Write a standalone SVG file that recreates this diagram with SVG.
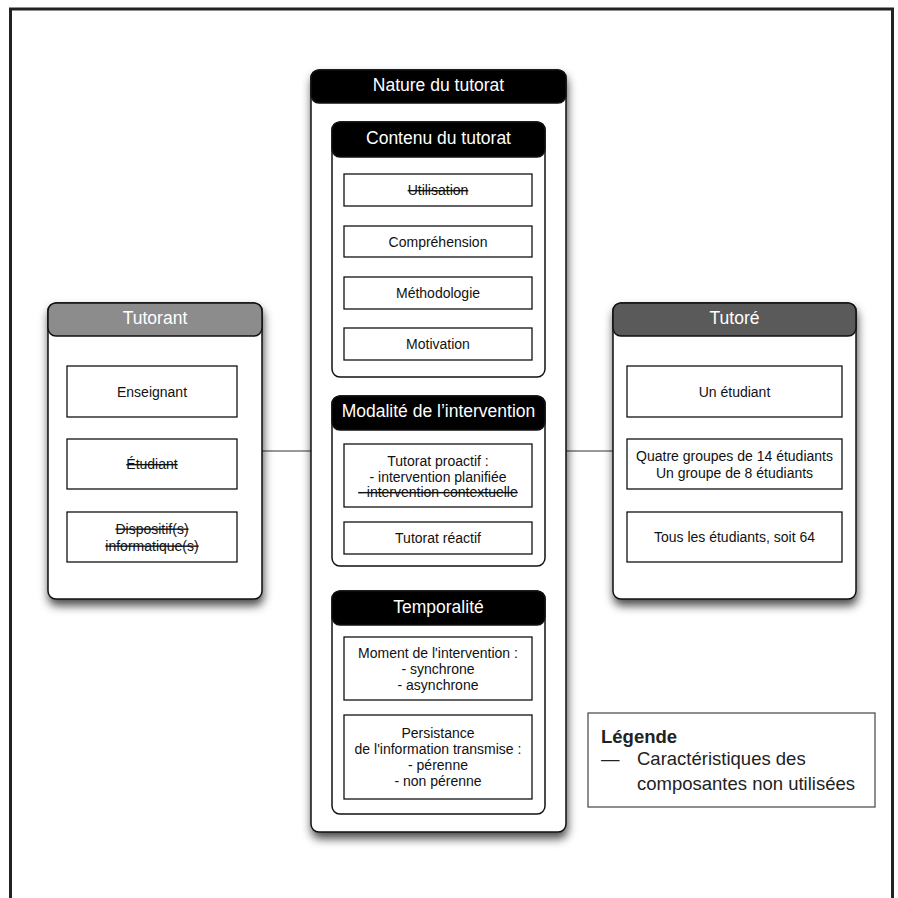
<svg xmlns="http://www.w3.org/2000/svg" width="898" height="898" viewBox="0 0 898 898">
<defs>
<filter id="sh" x="-20%" y="-20%" width="140%" height="140%">
<feDropShadow dx="1" dy="6" stdDeviation="5" flood-color="#000" flood-opacity="0.7"/>
</filter>
<style>
text{font-family:"Liberation Sans",Arial,Helvetica,sans-serif;fill:#111;}
.cont{fill:#fff;stroke:#111;stroke-width:1.5;}
.hdr{stroke:#111;stroke-width:1.5;}
.black{fill:#000;}
.g1{fill:#8c8c8c;}
.g2{fill:#5a5a5a;}
.ht{font-size:17.5px;fill:#fff;text-anchor:middle;}
.box{fill:#fff;stroke:#111;stroke-width:1.3;}
.bt{font-size:14px;text-anchor:middle;}
.st{text-decoration:line-through;}
.conn{stroke:#333;stroke-width:1.2;fill:none;}
.lg{font-size:18.5px;fill:#222;}
</style>
</defs>
<rect x="10.5" y="9" width="882" height="1000" fill="#fff" stroke="#222" stroke-width="3"/>

<g id="connectors">
<path class="conn" d="M262,451 H311"/>
<path class="conn" d="M566,451 H613"/>
</g>

<g id="tutorant">
<rect class="cont" x="48" y="303" width="214" height="296" rx="8" filter="url(#sh)"/>
<rect class="hdr g1" x="48" y="303" width="214" height="33" rx="8"/>
<text class="ht" x="155" y="323.5">Tutorant</text>
<rect class="box" x="67" y="366" width="170" height="51"/>
<text class="bt" x="152" y="396.5">Enseignant</text>
<rect class="box" x="67" y="439" width="170" height="50"/>
<text class="bt st" x="152" y="469">Étudiant</text>
<rect class="box" x="67" y="512" width="170" height="50"/>
<text class="bt st" x="152" y="533.5">Dispositif(s)</text>
<text class="bt st" x="152" y="550.5">informatique(s)</text>
</g>

<g id="tutore">
<rect class="cont" x="613" y="303" width="243" height="296" rx="8" filter="url(#sh)"/>
<rect class="hdr g2" x="613" y="303" width="243" height="33" rx="8"/>
<text class="ht" x="734.5" y="323.5">Tutoré</text>
<rect class="box" x="627" y="366" width="215" height="51"/>
<text class="bt" x="734.5" y="396.5">Un étudiant</text>
<rect class="box" x="627" y="439" width="215" height="50"/>
<text class="bt" x="734.5" y="460.5">Quatre groupes de 14 étudiants</text>
<text class="bt" x="734.5" y="477.5">Un groupe de 8 étudiants</text>
<rect class="box" x="627" y="512" width="215" height="50"/>
<text class="bt" x="734.5" y="542">Tous les étudiants, soit 64</text>
</g>

<g id="nature">
<rect class="cont" x="311" y="70" width="255" height="762" rx="8" filter="url(#sh)"/>
<rect class="hdr black" x="311" y="70" width="255" height="33" rx="8"/>
<text class="ht" x="438.5" y="90.5">Nature du tutorat</text>
</g>

<g id="contenu">
<rect class="cont" x="332" y="122" width="213" height="255" rx="8"/>
<rect class="hdr black" x="332" y="122" width="213" height="35" rx="8"/>
<text class="ht" x="438.5" y="143.5">Contenu du tutorat</text>
<rect class="box" x="344" y="174" width="188" height="32"/>
<text class="bt st" x="438" y="195">Utilisation</text>
<rect class="box" x="344" y="226" width="188" height="31"/>
<text class="bt" x="438" y="246.5">Compréhension</text>
<rect class="box" x="344" y="277" width="188" height="32"/>
<text class="bt" x="438" y="298">Méthodologie</text>
<rect class="box" x="344" y="328" width="188" height="32"/>
<text class="bt" x="438" y="349">Motivation</text>
</g>

<g id="modalite">
<rect class="cont" x="332" y="396" width="213" height="170" rx="8"/>
<rect class="hdr black" x="332" y="396" width="213" height="34" rx="8"/>
<text class="ht" x="438.5" y="417">Modalité de l’intervention</text>
<rect class="box" x="344" y="444" width="188" height="63"/>
<text class="bt" x="438" y="466">Tutorat proactif :</text>
<text class="bt" x="438" y="481.5">- intervention planifiée</text>
<text class="bt st" x="438" y="497">- intervention contextuelle</text>
<rect class="box" x="344" y="522" width="188" height="32"/>
<text class="bt" x="438" y="543">Tutorat réactif</text>
</g>

<g id="temporalite">
<rect class="cont" x="332" y="591" width="213" height="223" rx="8"/>
<rect class="hdr black" x="332" y="591" width="213" height="34" rx="8"/>
<text class="ht" x="438.5" y="612.5">Temporalité</text>
<rect class="box" x="344" y="637" width="188" height="63"/>
<text class="bt" x="438" y="657.5">Moment de l'intervention :</text>
<text class="bt" x="438" y="673.5">- synchrone</text>
<text class="bt" x="438" y="689.5">- asynchrone</text>
<rect class="box" x="344" y="715" width="188" height="84"/>
<text class="bt" x="438" y="738">Persistance</text>
<text class="bt" x="438" y="754">de l'information transmise :</text>
<text class="bt" x="438" y="770">- pérenne</text>
<text class="bt" x="438" y="786">- non pérenne</text>
</g>

<g id="legende">
<rect x="588" y="713" width="287" height="94" fill="#fff" stroke="#444" stroke-width="1.2"/>
<text class="lg" x="601" y="743" font-weight="bold">Légende</text>
<text class="lg" x="601" y="765">—</text>
<text class="lg" x="637" y="765">Caractéristiques des</text>
<text class="lg" x="637" y="790">composantes non utilisées</text>
</g>
</svg>
